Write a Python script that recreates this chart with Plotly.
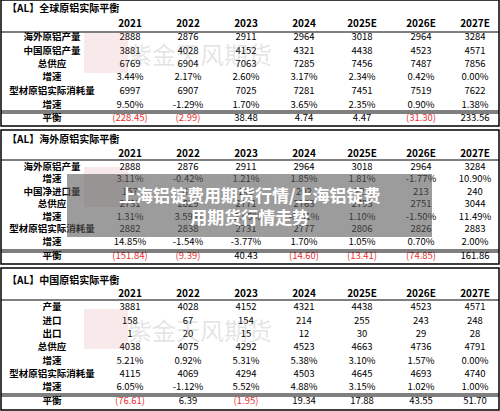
import plotly.graph_objects as go

years = ["2021", "2022", "2023", "2024", "2025E", "2026E", "2027E"]

# table 1: 全球原铝实际平衡
t1_title = "【AL】全球原铝实际平衡"
t1_labels = ["海外原铝产量", "中国原铝产量", "总供应", "增速", "型材原铝实际消耗量", "增速", "平衡"]
t1_values = [
    ["2888", "2876", "2911", "2964", "3018", "2964", "3284"],
    ["3881", "4028", "4152", "4321", "4438", "4523", "4571"],
    ["6769", "6904", "7063", "7285", "7456", "7487", "7856"],
    ["3.44%", "2.17%", "2.60%", "3.17%", "2.34%", "0.42%", "0.00%"],
    ["6997", "6907", "7025", "7281", "7451", "7519", "7622"],
    ["9.50%", "-1.29%", "1.70%", "3.65%", "2.35%", "0.90%", "1.38%"],
    ["(228.45)", "(2.99)", "38.48", "4.74", "4.47", "(31.30)", "233.56"],
]

# table 2: 海外原铝实际平衡
t2_title = "【AL】海外原铝实际平衡"
t2_labels = ["海外原铝产量", "增速", "中国净进口量", "总供应", "增速", "型材原铝实际消耗量", "增速", "平衡"]
t2_values = [
    ["2888", "2876", "2911", "2964", "3018", "2964", "3284"],
    ["3.11%", "-0.42%", "1.21%", "1.85%", "1.81%", "-1.77%", "10.90%"],
    ["157", "47", "140", "202", "225", "213", "240"],
    ["2731", "2829", "2771", "2763", "2793", "2751", "3044"],
    ["1.31%", "3.59%", "-2.05%", "-0.31%", "1.10%", "-1.50%", "11.49%"],
    ["2882", "2838", "2731", "2777", "2806", "2826", "2883"],
    ["14.85%", "-1.54%", "-3.77%", "1.70%", "1.05%", "0.70%", "2.00%"],
    ["(151.84)", "(9.39)", "40.43", "(14.60)", "(13.41)", "(74.85)", "161.86"],
]

# table 3: 中国原铝实际平衡
t3_title = "【AL】中国原铝实际平衡"
t3_labels = ["产量", "进口", "出口", "总供应", "增速", "型材原铝实际消耗量", "增速", "平衡"]
t3_values = [
    ["3881", "4028", "4152", "4321", "4438", "4523", "4571"],
    ["158", "67", "154", "214", "255", "243", "248"],
    ["1", "20", "15", "12", "30", "29", "28"],
    ["4038", "4075", "4292", "4523", "4663", "4736", "4791"],
    ["5.21%", "0.92%", "5.31%", "5.38%", "3.10%", "1.57%", "0.00%"],
    ["4115", "4069", "4294", "4503", "4645", "4693", "4740"],
    ["6.05%", "-1.12%", "5.52%", "4.88%", "3.15%", "1.02%", "1.00%"],
    ["(76.61)", "6.39", "(1.95)", "19.34", "17.88", "43.55", "51.70"],
]

FONT = "Noto Sans CJK SC"
col_x = [130, 188, 246, 304, 362, 421, 475]
label_x = 52

fig = go.Figure()
shapes = []
annotations = []


def add_table(title, labels, values, top, bottom, title_y, header_y, row_y, header_line, bal_line):
    shapes.append(dict(type="rect", x0=1, x1=499, y0=top, y1=bottom,
                       line=dict(color="black", width=1.5)))
    shapes.append(dict(type="line", x0=1, x1=499, y0=header_line, y1=header_line,
                       line=dict(color="black", width=1)))
    shapes.append(dict(type="line", x0=1, x1=499, y0=bal_line, y1=bal_line,
                       line=dict(color="black", width=1)))
    shapes.append(dict(type="line", x0=1, x1=499, y0=bal_line + 2, y1=bal_line + 2,
                       line=dict(color="black", width=1)))
    annotations.append(dict(x=5, y=title_y, text="<b>" + title + "</b>", showarrow=False,
                            xanchor="left", font=dict(size=10, color="black", family=FONT)))
    # header
    fig.add_trace(go.Scatter(x=col_x, y=[header_y] * len(years), text=["<b>" + y + "</b>" for y in years],
                             mode="text", textfont=dict(size=10, color="black", family=FONT),
                             hoverinfo="skip"))
    # row labels
    fig.add_trace(go.Scatter(x=[label_x] * len(labels), y=row_y, text=["<b>" + l + "</b>" for l in labels],
                             mode="text", textfont=dict(size=9.5, color="black", family=FONT),
                             hoverinfo="skip"))
    xs, ys, ts, cs = [], [], [], []
    for r, row in enumerate(values):
        for c, v in enumerate(row):
            xs.append(col_x[c])
            ys.append(row_y[r])
            ts.append(v)
            cs.append("#e8312f" if v.startswith("(") else "black")
    fig.add_trace(go.Scatter(x=xs, y=ys, text=ts, mode="text",
                             textfont=dict(size=9.5, color=cs, family=FONT), hoverinfo="skip"))
    # watermark
    annotations.append(dict(x=200, y=(top + bottom) / 2 - 10, text="紫金天风期货", showarrow=False,
                            font=dict(size=24, color="rgba(150,150,150,0.25)", family=FONT)))
    shapes.append(dict(type="rect", x0=84, x1=128, y0=(top + bottom) / 2 - 30, y1=(top + bottom) / 2 + 10,
                       line=dict(width=0), fillcolor="rgba(200,80,80,0.12)"))


add_table(t1_title, t1_labels, t1_values, 0, 126, 7, 24,
          [38, 52, 65, 78, 92, 106, 119], 32, 111)
add_table(t2_title, t2_labels, t2_values, 130, 264, 138, 154,
          [168, 180, 193, 205, 218, 230, 243, 257], 160, 250)
add_table(t3_title, t3_labels, t3_values, 268, 410, 279, 294,
          [308, 322, 335, 348, 362, 375, 388, 402], 300, 394)

# overlay banner
shapes.append(dict(type="rect", x0=67, x1=432, y0=174, y1=237, line=dict(width=0),
                   fillcolor="rgba(90,90,90,0.6)"))
annotations.append(dict(x=250, y=205, text="<b>上海铝锭费用期货行情/上海铝锭费<br>用期货行情走势</b>",
                        showarrow=False, font=dict(size=17, color="white", family=FONT)))

fig.update_layout(
    width=500, height=411, margin=dict(l=0, r=0, t=0, b=0),
    paper_bgcolor="white", plot_bgcolor="white", showlegend=False,
    xaxis=dict(range=[0, 500], visible=False, fixedrange=True),
    yaxis=dict(range=[411, 0], visible=False, fixedrange=True),
    shapes=shapes, annotations=annotations,
)
fig.write_html("out.html", config={"displayModeBar": False},
               post_script="document.body.style.margin='0';")
